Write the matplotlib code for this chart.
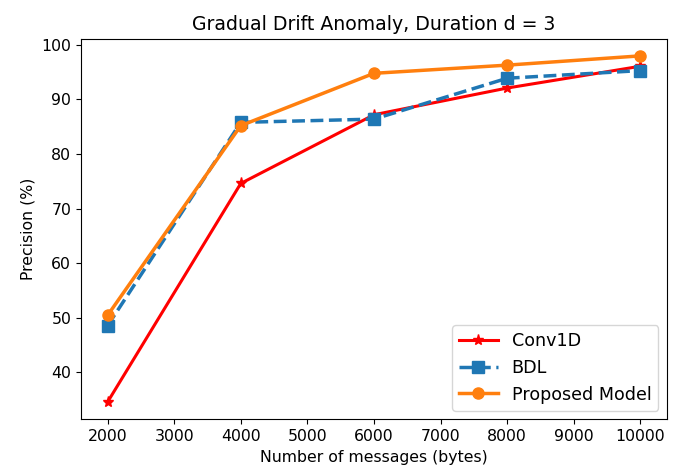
import matplotlib
matplotlib.use('Agg')
import matplotlib.pyplot as plt

messages = [2000, 4000, 6000, 8000, 10000]
conv1d = [34.5, 74.6, 87.2, 92.1, 96.1]
bdl = [48.5, 85.8, 86.4, 93.9, 95.3]
proposed = [50.4, 85.2, 94.8, 96.3, 98.0]

plt.rcParams['font.size'] = 11.3
fig = plt.figure(figsize=(6.8, 4.76), dpi=100)
ax = fig.add_axes([0.119, 0.119, 0.862, 0.800])

ax.plot(messages, conv1d, color='red', marker='*', markersize=8, linewidth=2.2, label='Conv1D')
ax.plot(messages, bdl, color='tab:blue', marker='s', markersize=8, linewidth=2.5, linestyle='--', label='BDL')
ax.plot(messages, proposed, color='tab:orange', marker='o', markersize=8, linewidth=2.5, label='Proposed Model')

ax.set_title("Gradual Drift Anomaly, Duration d = 3")
ax.set_xlabel('Number of messages (bytes)')
ax.set_ylabel('Precision (%)')
ax.set_xticks(range(2000, 10001, 1000))
ax.legend(loc='lower right', fontsize=12.6, handlelength=2.2)

plt.savefig('out.png', dpi=100)
